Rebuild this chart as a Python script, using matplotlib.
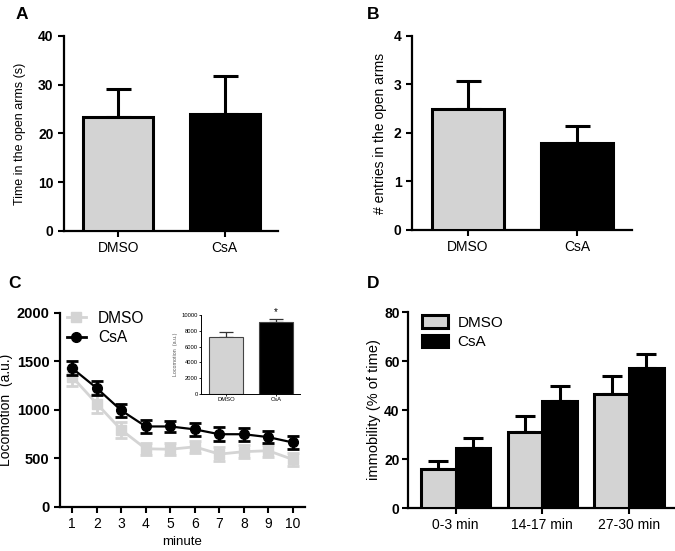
import numpy as np
import matplotlib
matplotlib.use('Agg')
import matplotlib.pyplot as plt
from matplotlib.lines import Line2D
from matplotlib.patches import Patch

plt.rcParams['font.family'] = ['Liberation Sans', 'DejaVu Sans']

# data
groups = ['DMSO', 'CsA']
open_time = [23.3, 24.0]
open_time_err = [5.9, 7.7]
entries = [2.5, 1.8]
entries_err = [0.58, 0.35]

minutes = [1, 2, 3, 4, 5, 6, 7, 8, 9, 10]
loco_dmso = [1340, 1065, 795, 600, 595, 620, 545, 570, 580, 490]
loco_dmso_err = [95, 95, 80, 60, 60, 65, 70, 65, 60, 70]
loco_csa = [1430, 1225, 995, 830, 830, 800, 750, 750, 720, 665]
loco_csa_err = [70, 75, 70, 70, 60, 70, 70, 65, 60, 65]

loco_total = [7250, 9100]
loco_total_err = [600, 450]

periods = ['0-3 min', '14-17 min', '27-30 min']
immob_dmso = [16, 31, 46.5]
immob_dmso_err = [3, 6.5, 7.5]
immob_csa = [24.5, 43.5, 57]
immob_csa_err = [4, 6.5, 6]

GREY = '#d3d3d3'
LW = 2.2

fig = plt.figure(figsize=(6.75, 5.51), dpi=100)


def style(ax, ysize=10):
    for s in ['top', 'right']:
        ax.spines[s].set_visible(False)
    for s in ['left', 'bottom']:
        ax.spines[s].set_linewidth(1.6)
    ax.tick_params(direction='out', length=4, width=1.5)
    for t in ax.get_yticklabels():
        t.set_fontweight('bold')
        t.set_fontsize(ysize)


def two_bars(ax, vals, errs, ylim, yticks, ylabel, lsize, lpad):
    x = np.arange(len(groups))
    ax.bar(x, vals, width=0.66, color=[GREY, 'black'], edgecolor='black',
           linewidth=LW, zorder=3)
    ax.errorbar(x, vals, yerr=[[0] * len(errs), errs], fmt='none',
                ecolor='black', elinewidth=LW, capsize=9, capthick=LW, zorder=2)
    ax.set_xlim(-0.51, 1.5)
    ax.set_ylim(*ylim)
    ax.set_yticks(yticks)
    ax.set_xticks(x)
    ax.set_xticklabels(groups, fontsize=10)
    ax.set_ylabel(ylabel, fontsize=lsize, labelpad=lpad)
    style(ax)


# A
axA = fig.add_axes([0.0948, 0.5808, 0.3170, 0.3539])
two_bars(axA, open_time, open_time_err, (0, 40), [0, 10, 20, 30, 40],
         'Time in the open arms (s)', 9, 9)

# B
axB = fig.add_axes([0.6104, 0.5826, 0.3259, 0.3521])
two_bars(axB, entries, entries_err, (0, 4), [0, 1, 2, 3, 4],
         '# entries in the open arms', 10, 5)

# C
axC = fig.add_axes([0.0889, 0.0799, 0.363, 0.3521])
axC.errorbar(minutes, loco_dmso, yerr=loco_dmso_err, color='#d4d4d4',
             marker='s', markersize=7, linewidth=2, elinewidth=2,
             capsize=4, capthick=2, label='DMSO', zorder=2)
axC.errorbar(minutes, loco_csa, yerr=loco_csa_err, color='black',
             marker='o', markersize=7, linewidth=1.6, elinewidth=2,
             capsize=4, capthick=2, label='CsA', zorder=3)
axC.set_xlim(0.5, 10.5)
axC.set_ylim(0, 2000)
axC.set_xticks(minutes)
axC.set_yticks([0, 500, 1000, 1500, 2000])
axC.set_xticklabels([str(m) for m in minutes], fontsize=10)
axC.set_xlabel('minute', fontsize=9.5, labelpad=3)
axC.set_ylabel('Locomotion  (a.u.)', fontsize=10, labelpad=3)
style(axC, ysize=10.5)
hC = [Line2D([], [], color='#d4d4d4', marker='s', markersize=7, lw=2),
      Line2D([], [], color='black', marker='o', markersize=7, lw=2)]
axC.legend(hC, groups, loc='upper left', bbox_to_anchor=(-0.01, 1.06),
           frameon=False, fontsize=11.2, handlelength=1.2, handletextpad=0.8,
           labelspacing=0.3, borderaxespad=0.2)

# inset
axI = fig.add_axes([0.2978, 0.2849, 0.1467, 0.1434])
xi = np.arange(len(groups))
axI.bar(xi, loco_total, width=0.68, color=[GREY, 'black'], edgecolor='#444444',
        linewidth=0.8, zorder=3)
axI.errorbar(xi, loco_total, yerr=[[0, 0], loco_total_err], fmt='none',
             ecolor='#333333', elinewidth=0.9, capsize=5, capthick=0.9, zorder=2)
axI.set_xlim(-0.5, 1.48)
axI.set_ylim(0, 10000)
axI.set_yticks([0, 2000, 4000, 6000, 8000, 10000])
axI.set_xticks(xi)
axI.set_xticklabels(groups, fontsize=4)
axI.set_ylabel('Locomotion  (a.u.)', fontsize=3.8, labelpad=2, color='#555555')
for s in ['top', 'right']:
    axI.spines[s].set_visible(False)
for s in ['left', 'bottom']:
    axI.spines[s].set_linewidth(0.7)
axI.tick_params(direction='out', length=1.5, width=0.6, labelsize=4.2, pad=1)
axI.text(1, loco_total[1] + loco_total_err[1] + 250, '*', ha='center',
         va='bottom', fontsize=7, clip_on=False)

# D
axD = fig.add_axes([0.6044, 0.0780, 0.3956, 0.3557])
xd = np.arange(len(periods))
bw = 0.4
axD.bar(xd - bw / 2, immob_dmso, width=bw, color=GREY, edgecolor='black',
        linewidth=LW, zorder=3)
axD.bar(xd + bw / 2, immob_csa, width=bw, color='black', edgecolor='black',
        linewidth=LW, zorder=3)
axD.errorbar(xd - bw / 2, immob_dmso, yerr=[[0] * 3, immob_dmso_err],
             fmt='none', ecolor='black', elinewidth=LW, capsize=7,
             capthick=LW, zorder=2)
axD.errorbar(xd + bw / 2, immob_csa, yerr=[[0] * 3, immob_csa_err],
             fmt='none', ecolor='black', elinewidth=LW, capsize=7,
             capthick=LW, zorder=2)
axD.set_xlim(-0.55, 2.53)
axD.set_ylim(0, 80)
axD.set_yticks([0, 20, 40, 60, 80])
axD.set_xticks(xd)
axD.set_xticklabels(periods, fontsize=10)
axD.set_ylabel('immobility (% of time)', fontsize=10.5, labelpad=2)
style(axD, ysize=10)
axD.tick_params(axis='y', pad=2)
hD = [Patch(facecolor=GREY, edgecolor='black', linewidth=LW),
      Patch(facecolor='black', edgecolor='black', linewidth=LW)]
axD.legend(hD, groups, loc='upper left', bbox_to_anchor=(0.02, 1.03),
           frameon=False, fontsize=11, handlelength=1.7, handleheight=0.9,
           handletextpad=0.6, labelspacing=0.3, borderaxespad=0.2)

# panel letters
for lab, x, y in [('A', 16, 7), ('B', 367, 7), ('C', 8, 276), ('D', 367, 276)]:
    fig.text(x / 675, 1 - y / 551, lab, fontsize=12.5, fontweight='bold',
             ha='left', va='top')

fig.savefig('out.png', dpi=100)
plt.close()
